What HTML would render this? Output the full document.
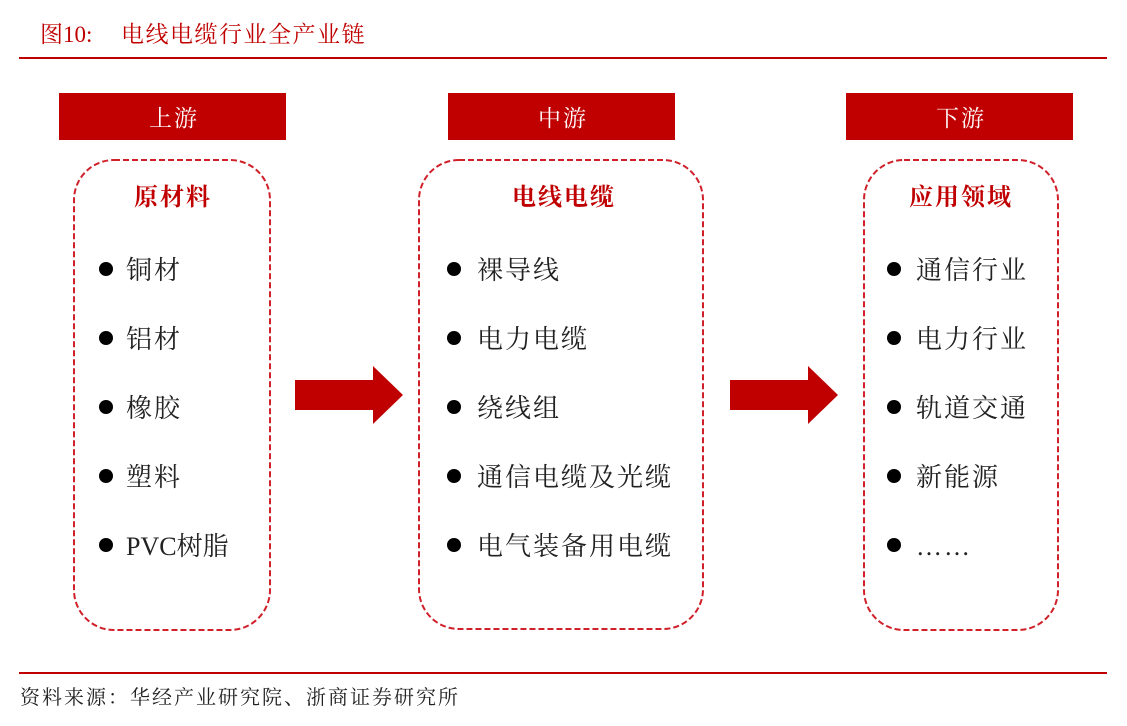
<!DOCTYPE html>
<html><head><meta charset="utf-8"><style>
body{margin:0;background:#fff;}
svg{display:block;font-family:"Liberation Serif","Noto Serif CJK SC",serif;}
</style></head><body>
<svg width="1127" height="726" viewBox="0 0 1127 726">
<text x="40" y="42" font-size="23" fill="#c00000">图10:</text>
<text x="121" y="42" font-size="23" fill="#c00000" letter-spacing="1.5">电线电缆行业全产业链</text>
<line x1="19" y1="58" x2="1107" y2="58" stroke="#c00000" stroke-width="2"/>

<rect x="59" y="93" width="227" height="47" fill="#c00000"/>
<rect x="448" y="93" width="227" height="47" fill="#c00000"/>
<rect x="846" y="93" width="227" height="47" fill="#c00000"/>
<g font-size="23" fill="#fff" letter-spacing="2">
<text x="149" y="126">上游</text>
<text x="538" y="126">中游</text>
<text x="936" y="126">下游</text>
</g>

<g fill="none" stroke="#d0202a" stroke-width="2" stroke-dasharray="6,3">
<rect x="74" y="160" width="196" height="470" rx="40"/>
<rect x="419" y="160" width="284" height="469" rx="40"/>
<rect x="864" y="160" width="194" height="470" rx="40"/>
</g>

<polygon points="295,380 373,380 373,366 403,395 373,424 373,410 295,410" fill="#c00000"/>
<polygon points="730,380 808,380 808,366 838,395 808,424 808,410 730,410" fill="#c00000"/>

<g font-size="24" font-weight="bold" fill="#c00000" letter-spacing="2">
<text x="134" y="205">原材料</text>
<text x="512" y="205">电线电缆</text>
<text x="909" y="205">应用领域</text>
</g>

<g font-size="26" fill="#222" letter-spacing="2">
<circle cx="106" cy="269" r="7" fill="#000"/><text x="126" y="279">铜材</text>
<circle cx="106" cy="338" r="7" fill="#000"/><text x="126" y="348">铝材</text>
<circle cx="106" cy="407" r="7" fill="#000"/><text x="126" y="417">橡胶</text>
<circle cx="106" cy="476" r="7" fill="#000"/><text x="126" y="486">塑料</text>
<circle cx="106" cy="545" r="7" fill="#000"/><text x="126" y="555" letter-spacing="0">PVC树脂</text>

<circle cx="454" cy="269" r="7" fill="#000"/><text x="477" y="279">裸导线</text>
<circle cx="454" cy="338" r="7" fill="#000"/><text x="477" y="348">电力电缆</text>
<circle cx="454" cy="407" r="7" fill="#000"/><text x="477" y="417">绕线组</text>
<circle cx="454" cy="476" r="7" fill="#000"/><text x="477" y="486">通信电缆及光缆</text>
<circle cx="454" cy="545" r="7" fill="#000"/><text x="477" y="555">电气装备用电缆</text>

<circle cx="894" cy="269" r="7" fill="#000"/><text x="916" y="279">通信行业</text>
<circle cx="894" cy="338" r="7" fill="#000"/><text x="916" y="348">电力行业</text>
<circle cx="894" cy="407" r="7" fill="#000"/><text x="916" y="417">轨道交通</text>
<circle cx="894" cy="476" r="7" fill="#000"/><text x="916" y="486">新能源</text>
<circle cx="894" cy="545" r="7" fill="#000"/><text x="916" y="555">……</text>
</g>

<line x1="19" y1="673" x2="1107" y2="673" stroke="#c00000" stroke-width="2"/>
<text x="20" y="704" font-size="20" fill="#222" letter-spacing="2">资料来源：华经产业研究院、浙商证券研究所</text>
</svg>
</body></html>
